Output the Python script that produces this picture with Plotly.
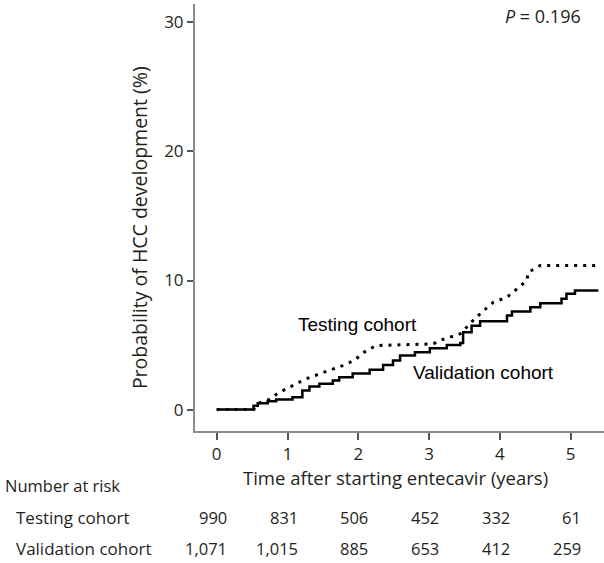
import plotly.graph_objects as go

# Kaplan-Meier style cumulative incidence
valid_t = [0, 0.52, 0.58, 0.72, 0.84, 1.07, 1.21, 1.31, 1.45, 1.64, 1.73, 1.92, 2.16, 2.35, 2.49,
           2.59, 2.80, 3.01, 3.25, 3.44, 3.48, 3.60, 3.72, 4.10, 4.17, 4.43, 4.57, 4.87, 4.94, 5.06, 5.39]
valid_y = [0, 0.3, 0.5, 0.64, 0.78, 0.96, 1.47, 1.78, 2.0, 2.25, 2.5, 2.8, 3.08, 3.46, 3.8,
           4.19, 4.45, 4.75, 5.0, 5.15, 6.0, 6.5, 6.85, 7.29, 7.6, 7.93, 8.24, 8.58, 8.97, 9.22, 9.22]

test_t = [0, 0.52, 0.60, 0.75, 0.86, 1.07, 1.26, 1.52, 1.78, 1.94, 2.08, 2.25, 3.06, 3.15, 3.30,
          3.44, 3.53, 3.62, 3.77, 3.91, 4.10, 4.26, 4.38, 4.40, 4.52, 4.57, 5.40]
test_y = [0, 0, 0.5, 0.8, 1.26, 1.86, 2.38, 2.9, 3.41, 3.8, 4.44, 4.96, 5.09, 5.35, 5.6,
          5.87, 6.38, 6.9, 7.67, 8.32, 8.7, 9.48, 10.0, 10.64, 10.98, 11.16, 11.16]

x_ticks = [0, 1, 2, 3, 4, 5]
y_ticks = [0, 10, 20, 30]
risk_testing = ["990", "831", "506", "452", "332", "61"]
risk_validation = ["1,071", "1,015", "885", "653", "412", "259"]
p_text = "<i>P</i> = 0.196"

TXT = "#231f20"
AX = "#8c8c8c"
FONT = "Open Sans"

fig = go.Figure()
fig.add_trace(go.Scatter(x=valid_t, y=valid_y, mode="lines", line_shape="hv",
                         line=dict(color="black", width=2.5), showlegend=False,
                         name="Validation cohort"))
fig.add_trace(go.Scatter(x=test_t, y=test_y, mode="lines", line_shape="linear",
                         line=dict(color="black", width=3, dash="3px,6px"), showlegend=False,
                         name="Testing cohort"))

ann = []
ann.append(dict(text=p_text, x=0.9487, y=0.9726, xref="paper", yref="paper", xanchor="right",
                yanchor="middle", showarrow=False, font=dict(family=FONT, size=18, color=TXT)))
ann.append(dict(text="Testing cohort", x=1.989, y=6.61, xref="x", yref="y", showarrow=False,
                xanchor="center", yanchor="middle", font=dict(family="Liberation Sans", size=19, color="black")))
ann.append(dict(text="Validation cohort", x=3.775, y=2.91, xref="x", yref="y", showarrow=False,
                xanchor="center", yanchor="middle", font=dict(family="Liberation Sans", size=19, color="black")))
ann.append(dict(text="Probability of HCC development (%)", x=-0.137, y=0.4774, xref="paper", yref="paper",
                textangle=-90, showarrow=False, xanchor="center", yanchor="middle",
                font=dict(family=FONT, size=19.5, color=TXT)))
ann.append(dict(text="Time after starting entecavir (years)", x=2.52, y=-0.1085, xref="x", yref="paper",
                showarrow=False, xanchor="center", yanchor="middle", font=dict(family=FONT, size=18.5, color=TXT)))
ann.append(dict(text="Number at risk", x=-0.4694, y=-0.1273, xref="paper", yref="paper",
                showarrow=False, xanchor="left", yanchor="middle", font=dict(family=FONT, size=16.5, color=TXT)))
ann.append(dict(text="Testing cohort", x=-0.4425, y=-0.2022, xref="paper", yref="paper",
                showarrow=False, xanchor="left", yanchor="middle", font=dict(family=FONT, size=17, color=TXT)))
ann.append(dict(text="Validation cohort", x=-0.4425, y=-0.2749, xref="paper", yref="paper",
                showarrow=False, xanchor="left", yanchor="middle", font=dict(family=FONT, size=17, color=TXT)))
for t, a, b in zip(x_ticks, risk_testing, risk_validation):
    ann.append(dict(text=a, x=t + 0.17, y=-0.2022, xref="x", yref="paper", showarrow=False,
                    xanchor="right", yanchor="middle", font=dict(family=FONT, size=16.5, color=TXT)))
    ann.append(dict(text=b, x=t + 0.17, y=-0.2749, xref="x", yref="paper", showarrow=False,
                    xanchor="right", yanchor="middle", font=dict(family=FONT, size=16.5, color=TXT)))

fig.update_layout(
    width=604, height=563,
    margin=dict(l=195, r=0, t=4, b=132),
    plot_bgcolor="white", paper_bgcolor="white",
    annotations=ann,
    xaxis=dict(range=[-0.3065, 5.47], tickvals=x_ticks, ticktext=[str(v) for v in x_ticks],
               showgrid=False, zeroline=False, showline=True, linecolor=AX, linewidth=2,
               ticks="outside", ticklen=7, tickwidth=2, tickcolor="#555",
               tickfont=dict(family=FONT, size=17, color=TXT)),
    yaxis=dict(range=[-1.659, 31.42], tickvals=y_ticks, ticktext=[str(v) for v in y_ticks],
               showgrid=False, zeroline=False, showline=True, linecolor=AX, linewidth=2,
               ticks="outside", ticklen=6, tickwidth=2, tickcolor="#555",
               tickfont=dict(family=FONT, size=17, color=TXT)),
)

fig.write_html("out.html", config={"displayModeBar": False},
               post_script="document.body.style.margin='0';document.body.style.overflow='hidden';")
